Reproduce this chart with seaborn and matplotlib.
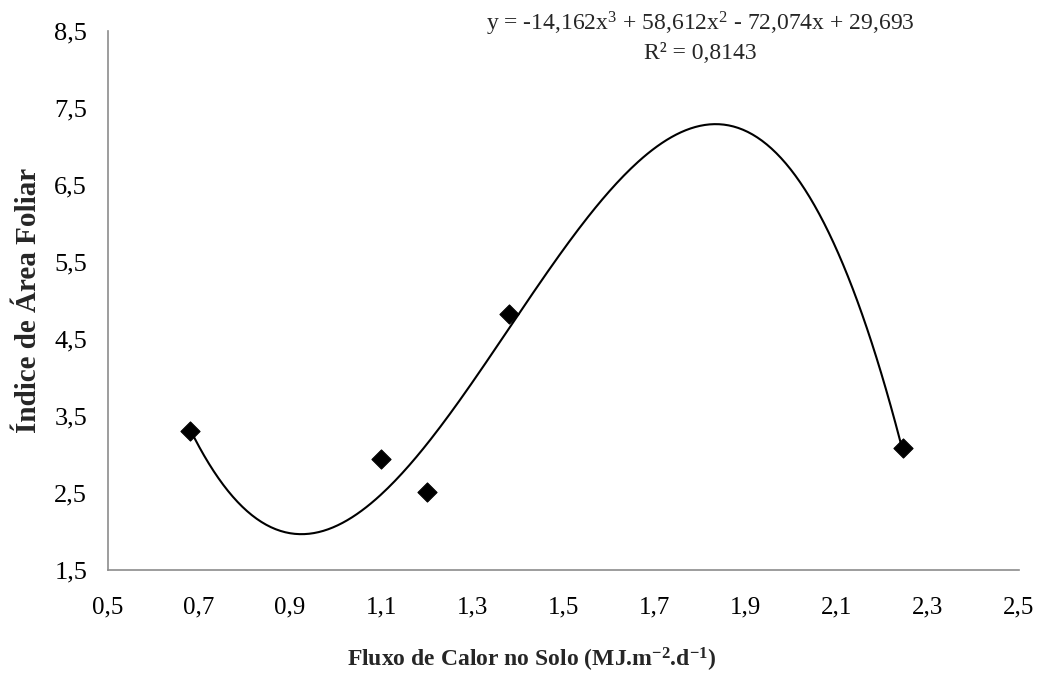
import numpy as np
import pandas as pd
import seaborn as sns
import matplotlib
matplotlib.use("Agg")
import matplotlib.pyplot as plt
from matplotlib.ticker import FuncFormatter

# Valores
fluxo_calor = [0.68, 1.10, 1.20, 1.38, 2.245]
iaf = [3.30, 2.94, 2.52, 4.83, 3.09]

# Coeficientes da linha de tendência (polinomial de 3a ordem)
coef = [-14.162, 58.612, -72.074, 29.693]
r2 = 0.8143

x_ticks = [0.5, 0.7, 0.9, 1.1, 1.3, 1.5, 1.7, 1.9, 2.1, 2.3, 2.5]
y_ticks = [1.5, 2.5, 3.5, 4.5, 5.5, 6.5, 7.5, 8.5]

df = pd.DataFrame({"fluxo": fluxo_calor, "iaf": iaf})

sns.set_style("white")
plt.rcParams["font.family"] = ["Liberation Serif", "DejaVu Serif"]
plt.rcParams["mathtext.fontset"] = "custom"
plt.rcParams["mathtext.rm"] = "Liberation Serif"
plt.rcParams["mathtext.it"] = "Liberation Serif"
plt.rcParams["mathtext.bf"] = "Liberation Serif:bold"

fig = plt.figure(figsize=(10.38, 6.77), dpi=100)
ax = fig.add_axes([0.104, 0.158, 0.8775, 0.796])

# curva de tendência
xs = np.linspace(min(fluxo_calor), max(fluxo_calor), 300)
sns.lineplot(x=xs, y=np.polyval(coef, xs), ax=ax, color="black", linewidth=1.5)

sns.scatterplot(data=df, x="fluxo", y="iaf", ax=ax, marker="D", s=95,
                color="black", edgecolor="black", zorder=3)

ax.set_xlim(0.5, 2.5)
ax.set_ylim(1.5, 8.5)
ax.set_xticks(x_ticks)
ax.set_yticks(y_ticks)
fmt = FuncFormatter(lambda v, p: f"{v:.1f}".replace(".", ","))
ax.xaxis.set_major_formatter(fmt)
ax.yaxis.set_major_formatter(fmt)

for side in ["top", "right"]:
    ax.spines[side].set_visible(False)
for side in ["left", "bottom"]:
    ax.spines[side].set_color("#8c8c8c")
    ax.spines[side].set_linewidth(1.2)
ax.tick_params(axis="both", direction="out", length=7, width=1.2,
               color="#8c8c8c", labelcolor="black")
ax.tick_params(axis="x", pad=12, labelsize=18)
ax.tick_params(axis="y", pad=8, labelsize=19)

ax.set_xlabel(r"Fluxo de Calor no Solo (MJ.m$^{\mathbf{-2}}$.d$^{\mathbf{-1}}$)",
              fontsize=17, fontweight="bold", labelpad=20, x=0.465)
ax.set_ylabel("Índice de Área Foliar", fontsize=21, fontweight="bold", labelpad=9)

c = [f"{abs(v):.3f}".replace(".", ",") for v in coef]
eq = (f"y = -{c[0]}x$^{{3}}$ + {c[1]}x$^{{2}}$ - {c[2]}x + {c[3]}")
fig.text(0.675, 0.965, eq, ha="center", va="center", fontsize=17)
fig.text(0.675, 0.921, f"R² = {r2:.4f}".replace(".", ","), ha="center",
         va="center", fontsize=17)

fig.savefig("out.png", dpi=100)
